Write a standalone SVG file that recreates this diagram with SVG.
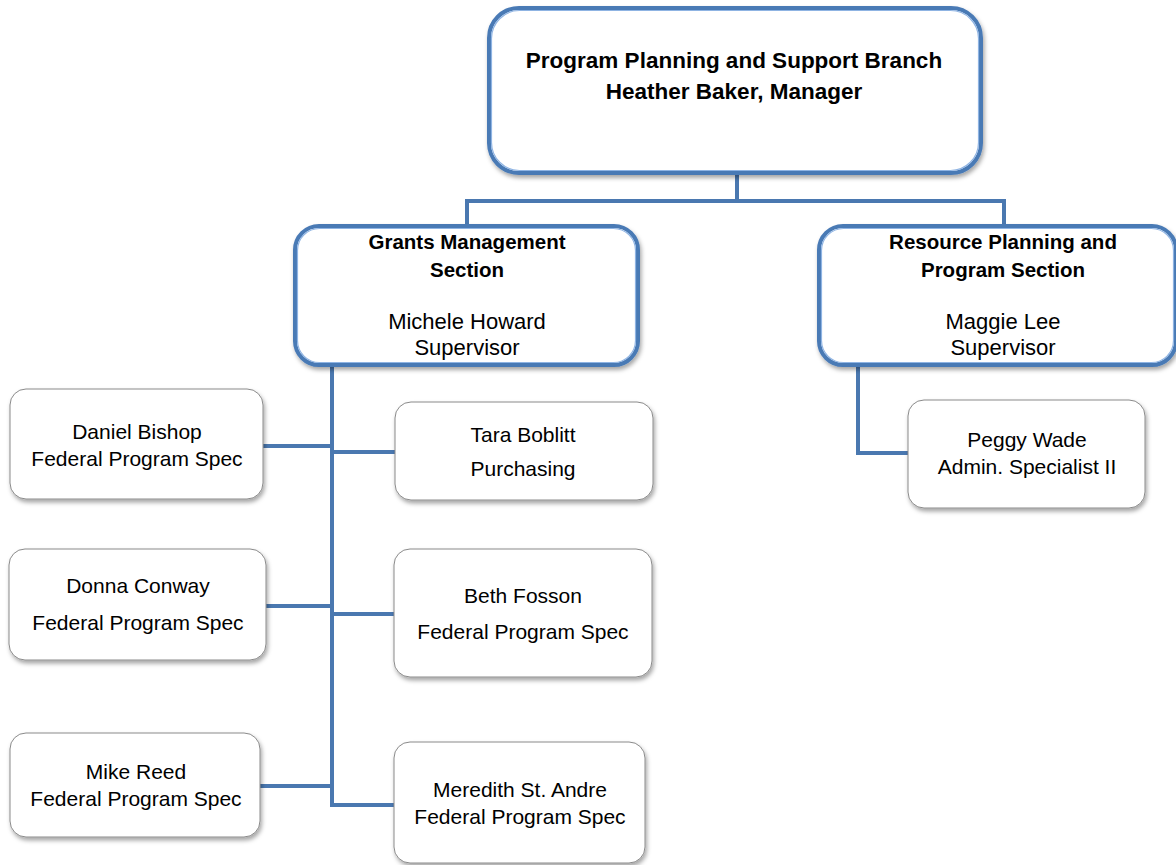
<svg xmlns="http://www.w3.org/2000/svg" width="1176" height="865" viewBox="0 0 1176 865">
<defs>
<filter id="sh" x="-10%" y="-10%" width="120%" height="130%">
<feDropShadow dx="1.5" dy="3" stdDeviation="2" flood-color="#000" flood-opacity="0.35"/>
</filter>
</defs>
<style>
.big{fill:#fff;stroke:#4a7ab5;stroke-width:4;filter:url(#sh)}
.bigin{fill:none;stroke:#8fb4e3;stroke-width:1.2}
.small{fill:#fff;stroke:#8a8a8a;stroke-width:1;filter:url(#sh)}
.conn{fill:none;stroke:#4a78b0;stroke-width:4}
text{font-family:"Liberation Sans",Arial,sans-serif;font-size:21px;fill:#000;text-anchor:middle}
.b{font-weight:bold;font-size:20.5px}
.bt{font-weight:bold;font-size:22.5px}
.sr{font-size:22px}
</style>
<rect width="1176" height="865" fill="#fff"/>
<g id="connectors">
<polyline class="conn" points="737,173 737,201"/>
<polyline class="conn" points="467,226 467,201 1004,201 1004,226"/>
<polyline class="conn" points="332,366 332,805 395,805"/>
<line class="conn" x1="263" y1="446" x2="332" y2="446"/>
<line class="conn" x1="332" y1="452" x2="395" y2="452"/>
<line class="conn" x1="266" y1="606" x2="332" y2="606"/>
<line class="conn" x1="332" y1="614" x2="395" y2="614"/>
<line class="conn" x1="260" y1="786" x2="332" y2="786"/>
<polyline class="conn" points="858,366 858,453 908,453"/>
</g>
<g id="branch">
<rect class="big" x="489" y="8" width="492" height="165" rx="30"/>
<rect class="bigin" x="491.5" y="10.5" width="487" height="160" rx="28"/>
<text class="bt" x="734" y="68">Program Planning and Support Branch</text>
<text class="bt" x="734" y="99">Heather Baker, Manager</text>
</g>
<g id="grants">
<rect class="big" x="295" y="226" width="343" height="139" rx="24"/>
<rect class="bigin" x="297.5" y="228.5" width="338" height="134" rx="22"/>
<text class="b" x="467" y="249">Grants Management</text>
<text class="b" x="467" y="277">Section</text>
<text class="sr" x="467" y="329">Michele Howard</text>
<text class="sr" x="467" y="355">Supervisor</text>
</g>
<g id="resource">
<rect class="big" x="819" y="226" width="357" height="139" rx="24"/>
<rect class="bigin" x="821.5" y="228.5" width="352" height="134" rx="22"/>
<text class="b" x="1003" y="249">Resource Planning and</text>
<text class="b" x="1003" y="277">Program Section</text>
<text class="sr" x="1003" y="329">Maggie Lee</text>
<text class="sr" x="1003" y="355">Supervisor</text>
</g>
<g id="daniel">
<rect class="small" x="10" y="389" width="253" height="110" rx="16"/>
<text x="137" y="439">Daniel Bishop</text>
<text x="137" y="466">Federal Program Spec</text>
</g>
<g id="tara">
<rect class="small" x="395" y="402" width="258" height="98" rx="16"/>
<text x="523" y="442">Tara Boblitt</text>
<text x="523" y="476">Purchasing</text>
</g>
<g id="donna">
<rect class="small" x="9" y="549" width="257" height="111" rx="16"/>
<text x="138" y="593">Donna Conway</text>
<text x="138" y="630">Federal Program Spec</text>
</g>
<g id="beth">
<rect class="small" x="394" y="549" width="258" height="128" rx="16"/>
<text x="523" y="603">Beth Fosson</text>
<text x="523" y="639">Federal Program Spec</text>
</g>
<g id="mike">
<rect class="small" x="10" y="733" width="250" height="104" rx="16"/>
<text x="136" y="779">Mike Reed</text>
<text x="136" y="806">Federal Program Spec</text>
</g>
<g id="meredith">
<rect class="small" x="394" y="742" width="251" height="121" rx="16"/>
<text x="520" y="797">Meredith St. Andre</text>
<text x="520" y="824">Federal Program Spec</text>
</g>
<g id="peggy">
<rect class="small" x="908" y="400" width="237" height="108" rx="16"/>
<text x="1027" y="447">Peggy Wade</text>
<text x="1027" y="474">Admin. Specialist II</text>
</g>
</svg>
